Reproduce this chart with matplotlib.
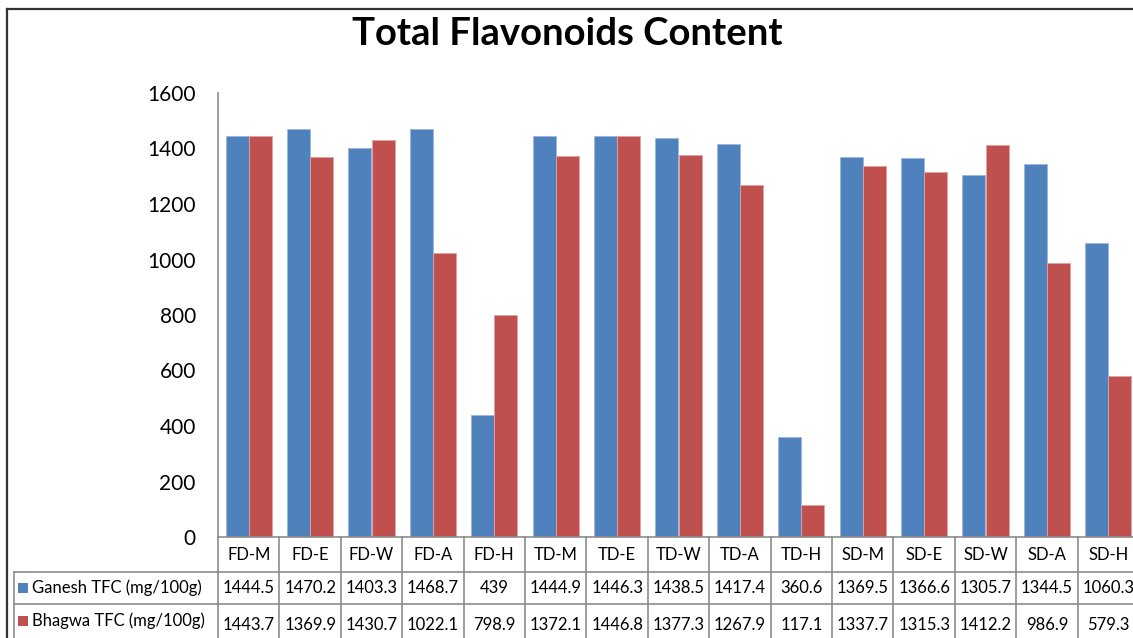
import matplotlib.pyplot as plt
from matplotlib.patches import Rectangle
from matplotlib.lines import Line2D

categories = ['FD-M', 'FD-E', 'FD-W', 'FD-A', 'FD-H', 'TD-M', 'TD-E', 'TD-W', 'TD-A', 'TD-H',
              'SD-M', 'SD-E', 'SD-W', 'SD-A', 'SD-H']
ganesh = [1444.5, 1470.2, 1403.3, 1468.7, 439, 1444.9, 1446.3, 1438.5, 1417.4, 360.6,
          1369.5, 1366.6, 1305.7, 1344.5, 1060.3]
bhagwa = [1443.7, 1369.9, 1430.7, 1022.1, 798.9, 1372.1, 1446.8, 1377.3, 1267.9, 117.1,
          1337.7, 1315.3, 1412.2, 986.9, 579.3]
ganesh_txt = ['1444.5', '1470.2', '1403.3', '1468.7', '439', '1444.9', '1446.3', '1438.5', '1417.4', '360.6',
              '1369.5', '1366.6', '1305.7', '1344.5', '1060.3']
bhagwa_txt = ['1443.7', '1369.9', '1430.7', '1022.1', '798.9', '1372.1', '1446.8', '1377.3', '1267.9', '117.1',
              '1337.7', '1315.3', '1412.2', '986.9', '579.3']
series_names = ['Ganesh TFC (mg/100g)', 'Bhagwa TFC (mg/100g)']
yticks = [0, 200, 400, 600, 800, 1000, 1200, 1400, 1600]

BLUE = '#4F81BD'
RED = '#C0504D'
GRID = '#8C8C8C'
FONT = ['Lato', 'DejaVu Sans']
W, H = 1133, 638

plt.rcParams['font.family'] = FONT

fig = plt.figure(figsize=(W / 100, H / 100), dpi=100)

def fx(px):
    return px / W

def fy(py):
    return 1 - py / H

# plot area in pixel terms
left_px, right_px, top_px, bot_px = 218, 1139, 93, 537
ax = fig.add_axes([fx(left_px), fy(bot_px), fx(right_px - left_px), (bot_px - top_px) / H])

x = list(range(len(categories)))
bw = 0.375
ax.bar([i - bw / 2 for i in x], ganesh, width=bw, color=BLUE, edgecolor='#9DB7DD', linewidth=0.6)
ax.bar([i + bw / 2 for i in x], bhagwa, width=bw, color=RED, edgecolor='#E0A3A1', linewidth=0.6)

ax.set_xlim(-0.5, len(categories) - 0.5)
ax.set_ylim(0, 1600)
ax.set_yticks(yticks)
ax.set_yticklabels([str(t) for t in yticks], fontsize=15)
ax.tick_params(axis='y', length=0, pad=16)
ax.set_xticks([])
for s in ['top', 'right', 'bottom']:
    ax.spines[s].set_visible(False)
ax.spines['left'].set_color(GRID)
ax.spines['left'].set_linewidth(1.2)

# data table below the axis
ph = bot_px - top_px
row_edges_px = [537, 572, 604, 645]
row_y = [(bot_px - p) / ph for p in row_edges_px]
tr = ax.get_xaxis_transform()
n = len(categories)
for i in range(n + 1):
    ax.add_line(Line2D([i - 0.5, i - 0.5], [row_y[0], row_y[-1]], transform=tr, color=GRID,
                       lw=1.2, clip_on=False))
for yy in row_y[:3]:
    ax.add_line(Line2D([-0.5, n - 0.5], [yy, yy], transform=tr, color=GRID, lw=1.2, clip_on=False))

for i, c in enumerate(categories):
    ax.text(i, (row_y[0] + row_y[1]) / 2, c, transform=tr, ha='center', va='center', fontsize=12)
    ax.text(i, (row_y[1] + row_y[2]) / 2, ganesh_txt[i], transform=tr, ha='center', va='center', fontsize=12)
    ax.text(i, (row_y[2] + row_y[3]) / 2, bhagwa_txt[i], transform=tr, ha='center', va='center', fontsize=12)

# legend column of the table
for yp in [572, 604]:
    fig.add_artist(Line2D([fx(14), fx(left_px)], [fy(yp), fy(yp)], color=GRID, lw=1.2))
fig.add_artist(Line2D([fx(14), fx(14)], [fy(572), fy(645)], color=GRID, lw=1.2))
for name, col, yc in zip(series_names, [BLUE, RED], [588, 621]):
    fig.add_artist(Rectangle((fx(18), fy(yc + 5)), fx(10), 10 / H, facecolor=col, edgecolor='none'))
    fig.text(fx(32), fy(yc), name, ha='left', va='center', fontsize=12)

# chart frame
fig.add_artist(Line2D([fx(7), fx(7)], [fy(9), fy(660)], color='#333333', lw=1.6))
fig.add_artist(Line2D([fx(7), fx(1140)], [fy(9), fy(9)], color='#333333', lw=1.6))

fig.text(fx(567), fy(34), 'Total Flavonoids Content', ha='center', va='center',
         fontsize=27.5, fontweight='bold')

fig.savefig('out.png', dpi=100)
